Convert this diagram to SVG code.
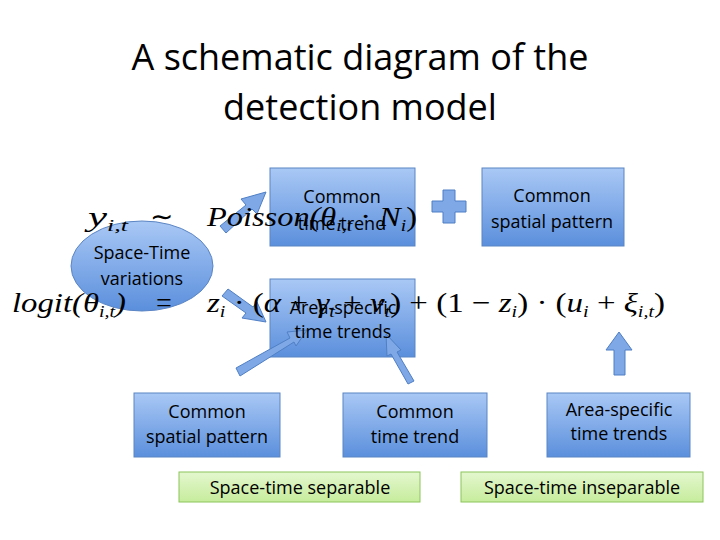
<svg xmlns="http://www.w3.org/2000/svg" width="720" height="540" viewBox="0 0 720 540">
<defs>
<linearGradient id="bg" x1="0" y1="0" x2="0" y2="1"><stop offset="0" stop-color="#a9c8f5"/><stop offset="1" stop-color="#5b8fdc"/></linearGradient>
<linearGradient id="gg" x1="0" y1="0" x2="0" y2="1"><stop offset="0" stop-color="#e4f7cf"/><stop offset="1" stop-color="#c6ec9c"/></linearGradient>
</defs>
<style>
.b{fill:url(#bg);stroke:#5b85c4;stroke-width:1}
.g{fill:url(#gg);stroke:#8cc45a;stroke-width:1}
.t{font-family:"Open Sans","Liberation Sans",sans-serif;font-size:18px;fill:#000;text-anchor:middle}
.m{font-family:"Liberation Serif",serif;font-size:28px;fill:#000}
.a{fill:#7fa8e6;stroke:#4f7fc4;stroke-width:1}
</style>
<rect width="720" height="540" fill="#fff"/>
<text x="360" y="70" font-family="Open Sans, Liberation Sans, sans-serif" font-size="36" text-anchor="middle">A schematic diagram of the</text>
<text x="360" y="120" font-family="Open Sans, Liberation Sans, sans-serif" font-size="36" text-anchor="middle">detection model</text>
<g id="n_ctt"><rect class="b" x="270" y="168" width="145" height="78"/></g>
<g id="n_csp"><rect class="b" x="482" y="168" width="142" height="78"/></g>
<g id="plus"><path class="a" d="M443 190h12v11h11v11h-11v11h-12v-11h-11v-11h11z"/></g>
<g id="n_ast"><rect class="b" x="270" y="279" width="145" height="78"/></g>
<g id="n_stv"><ellipse class="b" cx="142" cy="266" rx="71" ry="45"/></g>
<g id="n_bcsp"><rect class="b" x="134" y="393" width="146" height="64"/></g>
<g id="n_bctt"><rect class="b" x="343" y="393" width="144" height="64"/></g>
<g id="n_bast"><rect class="b" x="547" y="393" width="143" height="64"/></g>
<g id="n_sep"><rect class="g" x="179" y="472" width="241" height="30"/></g>
<g id="n_insep"><rect class="g" x="461" y="472" width="242" height="30"/></g>
<g id="connectors">
<path class="a" d="M220 226 L246 205 L241 199 L266 192 L257 214 L252 209 L226 233 Z"/>
<path class="a" d="M222 296 L246 313 L242 318 L266 322 L257 302 L253 307 L228 289 Z"/>
<path class="a" d="M236 368 L290 338 L287 332 L307 330 L296 346 L294 342 L240 376 Z"/>
<path class="a" d="M414 381 L397 352 L401 350 L386 334 L387 356 L391 354 L408 384 Z"/>
<path class="a" d="M614 375 L614 350 L606 350 L619 332 L632 350 L625 350 L625 375 Z"/>
</g>
<g font-style="italic">
<text class="m" x="88" y="226" textLength="40" lengthAdjust="spacingAndGlyphs">y<tspan font-size="17" dy="5">i,t</tspan></text>
<text class="m" x="150" y="226" font-style="normal">∼</text>
<text class="m" x="207" y="226" textLength="210" lengthAdjust="spacingAndGlyphs">Poisson(θ<tspan font-size="17" dy="5">i,t</tspan><tspan dy="-5" font-style="normal"> · </tspan>N<tspan font-size="17" dy="5">i</tspan><tspan dy="-5" font-style="normal">)</tspan></text>
<text class="m" x="12" y="312" textLength="114" lengthAdjust="spacingAndGlyphs">logit(θ<tspan font-size="17" dy="5">i,t</tspan><tspan dy="-5">)</tspan></text>
<text class="m" x="156" y="312" font-style="normal">=</text>
<text class="m" x="207" y="312" textLength="458" lengthAdjust="spacingAndGlyphs">z<tspan font-size="17" dy="5">i</tspan><tspan dy="-5" font-style="normal"> · (</tspan>α<tspan font-style="normal"> + </tspan>γ<tspan font-size="17" dy="5">t</tspan><tspan dy="-5" font-style="normal"> + </tspan>ν<tspan font-size="17" dy="5">t</tspan><tspan dy="-5" font-style="normal">) + (1 − </tspan>z<tspan font-size="17" dy="5">i</tspan><tspan dy="-5" font-style="normal">) · (</tspan>u<tspan font-size="17" dy="5">i</tspan><tspan dy="-5" font-style="normal"> + </tspan>ξ<tspan font-size="17" dy="5">i,t</tspan><tspan dy="-5" font-style="normal">)</tspan></text>
</g>
<text class="t" x="342" y="203">Common</text>
<text class="t" x="342" y="230">time trend</text>
<text class="t" x="552" y="202">Common</text>
<text class="t" x="552" y="228">spatial pattern</text>
<text class="t" x="343" y="314">Area-specific</text>
<text class="t" x="343" y="338">time trends</text>
<text class="t" x="142" y="259">Space-Time</text>
<text class="t" x="142" y="285">variations</text>
<text class="t" x="207" y="418">Common</text>
<text class="t" x="207" y="443">spatial pattern</text>
<text class="t" x="415" y="418">Common</text>
<text class="t" x="415" y="443">time trend</text>
<text class="t" x="619" y="416" font-size="16">Area-specific</text>
<text class="t" x="619" y="440" font-size="16">time trends</text>
<text class="t" x="300" y="494" font-size="16">Space-time separable</text>
<text class="t" x="582" y="494" font-size="16">Space-time inseparable</text>
</svg>
